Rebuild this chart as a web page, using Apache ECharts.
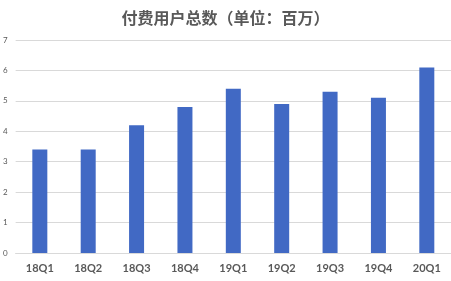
<!DOCTYPE html>
<html>
<head>
<meta charset="utf-8">
<script src="https://cdn.jsdelivr.net/npm/echarts@6/dist/echarts.min.js"></script>
<style>html,body{margin:0;padding:0;background:#fff}#c{width:451px;height:281px}</style>
</head>
<body>
<div id="c"></div>
<script>
const titleText = '付费用户总数（单位：百万）';
const categories = ['18Q1','18Q2','18Q3','18Q4','19Q1','19Q2','19Q3','19Q4','20Q1'];
const values = [3.4, 3.4, 4.2, 4.8, 5.4, 4.9, 5.3, 5.1, 6.1];
const yTicks = [0,1,2,3,4,5,6,7];

const chart = echarts.init(document.getElementById('c'), null, {renderer:'canvas'});
chart.setOption({
  animation: false,
  title: {
    text: titleText, left: 'center', top: 5,
    textStyle: {fontFamily: 'Noto Sans CJK SC', fontWeight: 'bold', fontSize: 16, color: '#595959'}
  },
  grid: {left: 14, top: 40, width: 439, height: 213, containLabel: false},
  xAxis: {
    type: 'category', data: categories,
    axisLine: {show: true, lineStyle: {color: '#d9d9d9'}},
    axisTick: {show: false},
    axisLabel: {margin: 10, fontFamily: 'Lato', fontWeight: 'bold', fontSize: 11, color: '#595959'}
  },
  yAxis: {
    type: 'value', min: yTicks[0], max: yTicks[yTicks.length-1], interval: 1,
    axisLine: {show: false}, axisTick: {show: false},
    splitLine: {lineStyle: {color: '#d9d9d9'}},
    axisLabel: {margin: 8, fontFamily: 'Lato', fontSize: 8, color: '#595959'}
  },
  series: [{
    type: 'bar', data: values, barWidth: 15,
    itemStyle: {color: '#4169C4'}
  }]
});
</script>
</body>
</html>
